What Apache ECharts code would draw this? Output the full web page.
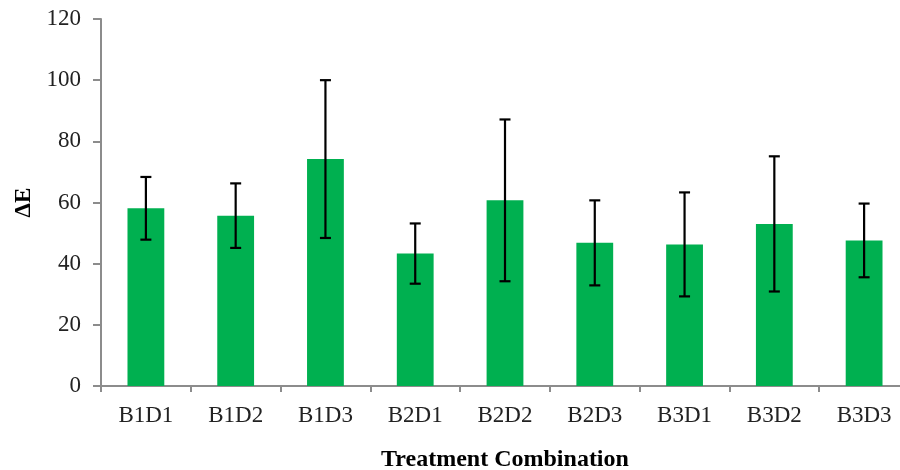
<!DOCTYPE html>
<html>
<head>
<meta charset="utf-8">
<script src="https://cdn.jsdelivr.net/npm/echarts@6/dist/echarts.min.js"></script>
<style>html,body{margin:0;padding:0;background:#fff;}#chart{width:900px;height:470px;}</style>
</head>
<body>
<div id="chart"></div>
<script>
const categories = ['B1D1','B1D2','B1D3','B2D1','B2D2','B2D3','B3D1','B3D2','B3D3'];
const meanValues = [58.1, 55.7, 74.2, 43.3, 60.7, 46.8, 46.3, 53.0, 47.6];
const errorValues = [10.25, 10.55, 25.8, 9.85, 26.45, 13.9, 17.0, 22.1, 12.05];
const yTicks = [0, 20, 40, 60, 80, 100, 120];

const chart = echarts.init(document.getElementById('chart'));
const font = '"Liberation Serif", "Times New Roman", serif';
const errData = categories.map((c, i) => [i, meanValues[i] - errorValues[i], meanValues[i] + errorValues[i]]);

chart.setOption({
  animation: false,
  grid: { left: 101, right: -9, top: 19, bottom: 84, containLabel: false, outerBoundsMode: 'none' },
  xAxis: {
    type: 'category',
    data: categories,
    name: 'Treatment Combination',
    nameLocation: 'middle',
    nameGap: 62,
    nameTextStyle: { fontFamily: font, fontSize: 24, fontWeight: 'bold', color: '#000' },
    axisLine: { lineStyle: { color: '#8c8c8c', width: 2 } },
    axisTick: { show: true, length: 6, lineStyle: { color: '#8c8c8c', width: 2 } },
    axisLabel: { fontFamily: font, fontSize: 23, color: '#222', margin: 18 }
  },
  yAxis: {
    type: 'value',
    min: 0, max: 120, interval: 20,
    name: 'ΔE',
    nameLocation: 'middle',
    nameGap: 58,
    nameRotate: 90,
    nameTextStyle: { fontFamily: font, fontSize: 23, fontWeight: 'bold', color: '#000' },
    axisLine: { show: true, lineStyle: { color: '#8c8c8c', width: 2 } },
    axisTick: { show: true, length: 8, lineStyle: { color: '#8c8c8c', width: 2 } },
    axisLabel: { fontFamily: font, fontSize: 23, color: '#222', margin: 20,
      formatter: v => yTicks.includes(v) ? String(v) : '' },
    splitLine: { show: false }
  },
  series: [
    {
      type: 'bar',
      data: meanValues,
      barWidth: '41%',
      itemStyle: { color: '#00B050' }
    },
    {
      type: 'custom',
      data: errData,
      z: 10,
      renderItem: function (params, api) {
        const x = api.value(0);
        const lo = api.coord([x, api.value(1)]);
        const hi = api.coord([x, api.value(2)]);
        const hw = 5.5;
        const style = { stroke: '#000', lineWidth: 2.2 };
        return {
          type: 'group',
          children: [
            { type: 'line', shape: { x1: hi[0], y1: hi[1], x2: lo[0], y2: lo[1] }, style },
            { type: 'line', shape: { x1: hi[0] - hw, y1: hi[1], x2: hi[0] + hw, y2: hi[1] }, style },
            { type: 'line', shape: { x1: lo[0] - hw, y1: lo[1], x2: lo[0] + hw, y2: lo[1] }, style }
          ]
        };
      }
    }
  ]
});
</script>
</body>
</html>
